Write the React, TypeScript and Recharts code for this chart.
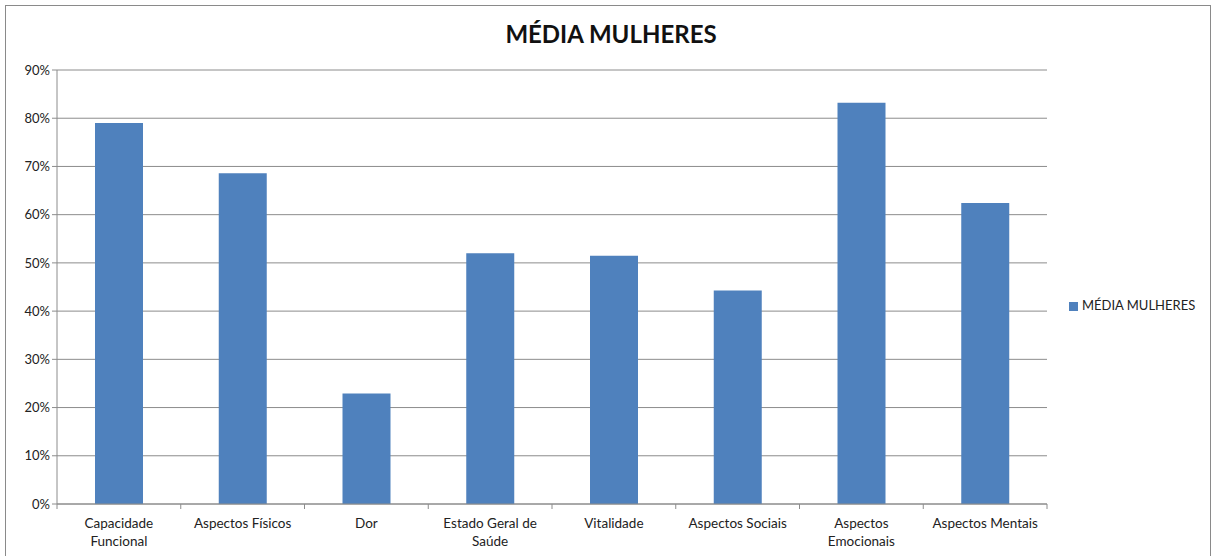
import { BarChart, Bar, XAxis, YAxis, CartesianGrid, Legend } from 'recharts';

const categories = [
  'Capacidade\nFuncional',
  'Aspectos Físicos',
  'Dor',
  'Estado Geral de\nSaúde',
  'Vitalidade',
  'Aspectos Sociais',
  'Aspectos\nEmocionais',
  'Aspectos Mentais',
];
const mediaMulheres = [0.79, 0.686, 0.229, 0.52, 0.515, 0.443, 0.832, 0.624];
const yTicks = [0, 0.1, 0.2, 0.3, 0.4, 0.5, 0.6, 0.7, 0.8, 0.9];

const data = categories.map((name, i) => ({ name, value: mediaMulheres[i] }));

const FONT = 'Lato, "Open Sans", sans-serif';
const GRID = '#8c8c8c';
const BAND = (1047 - 57) / categories.length;

function CategoryTick(props: any) {
  const { x, y, payload, index } = props;
  const lines = String(payload.value).split('\n');
  return (
    <g>
      <line x1={x - BAND / 2} y1={y - 8} x2={x - BAND / 2} y2={y - 3} stroke={GRID} />
      {index === categories.length - 1 && (
        <line x1={x + BAND / 2} y1={y - 8} x2={x + BAND / 2} y2={y - 3} stroke={GRID} />
      )}
      <text
        x={x}
        y={y + 16}
        textAnchor="middle"
        style={{ fontSize: 13.5, fontFamily: FONT, fill: '#222' }}
      >
        {lines.map((l, i) => (
          <tspan key={i} x={x} dy={i === 0 ? 0 : 18}>
            {l}
          </tspan>
        ))}
      </text>
    </g>
  );
}

export default function App() {
  return (
    <div style={{ position: 'absolute', left: 0, top: 0, width: 1215, height: 556, background: '#fff' }}>
      <div
        style={{
          position: 'absolute',
          left: 5,
          top: 5,
          width: 1206,
          height: 560,
          border: '1px solid #8a8a8a',
          boxSizing: 'border-box',
        }}
      />
      <div
        style={{
          position: 'absolute',
          left: 0,
          width: 1222,
          top: 19,
          textAlign: 'center',
          fontFamily: FONT,
          fontWeight: 'bold',
          fontSize: 24,
          color: '#111',
        }}
      >
        MÉDIA MULHERES
      </div>
      <div style={{ position: 'absolute', left: 0, top: 0 }}>
        <BarChart
          width={1215}
          height={556}
          data={data}
          margin={{ top: 70, right: 18, left: 0, bottom: 0 }}
        >
          <CartesianGrid vertical={false} stroke={GRID} />
          <XAxis
            dataKey="name"
            interval={0}
            tickLine={false}
            axisLine={{ stroke: GRID }}
            tick={<CategoryTick />}
            height={52}
          />
          <YAxis
            domain={[0, 0.9]}
            ticks={yTicks}
            tickFormatter={(v) => `${Math.round(v * 100)}%`}
            width={57}
            tickSize={5}
            tickLine={{ stroke: GRID }}
            axisLine={{ stroke: GRID }}
            tick={{ fontSize: 13, fontFamily: FONT, fill: '#222' }}
          />
          <Legend
            layout="vertical"
            align="right"
            verticalAlign="middle"
            iconType="square"
            iconSize={9}
            wrapperStyle={{ left: 1069, top: 297, width: 150, fontFamily: FONT, fontSize: 13 }}
            formatter={(v) => <span style={{ color: '#222' }}>{v}</span>}
          />
          <Bar
            dataKey="value"
            name="MÉDIA MULHERES"
            fill="#4f81bd"
            barSize={48}
            isAnimationActive={false}
          />
        </BarChart>
      </div>
    </div>
  );
}
